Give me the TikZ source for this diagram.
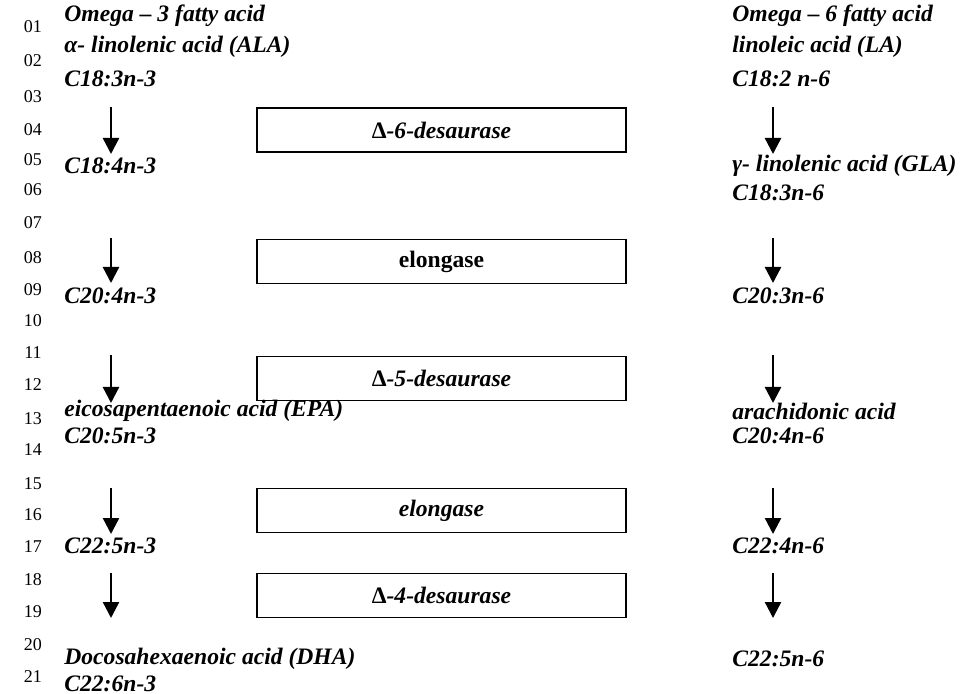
\documentclass[tikz,border=0pt]{standalone}
\usepackage{fontspec}
\setmainfont{Liberation Serif}
\usetikzlibrary{positioning, arrows.meta}

\tikzset{
    acid/.style={anchor=west, inner sep=0pt, font=\fontsize{11.8}{13}\selectfont\bfseries\itshape},
    enzyme/.style={draw, line width=0.7pt, minimum width=184.5pt, minimum height=22pt, inner sep=0pt,
        font=\fontsize{11.8}{13}\selectfont\bfseries\itshape},
    lineno/.style={inner sep=0pt, font=\fontsize{9}{10}\selectfont},
    flow/.style={-{Triangle[width=8pt,length=8pt]}, line width=1.2pt}
}
\newcommand{\dlt}{\textup{Δ}}

\begin{document}
\begin{tikzpicture}[x=0.5pt, y=-0.5pt]
        \useasboundingbox (0, 0) rectangle (962, 694);

        % 行号
        \foreach \n/\y in {01/27, 02/61, 03/97, 04/130, 05/160, 06/190, 07/223,
                08/258, 09/290, 10/321, 11/353, 12/385, 13/419, 14/450,
                15/484, 16/515, 17/547, 18/580, 19/612, 20/645, 21/677}
            \node[lineno] (L\n) at (33, \y) {\n};

        % 左列: omega-3
        \node[acid] (O3) at (64, 16) {Omega -- 3 fatty acid};
        \node[acid] (ALA) at (64, 47) {α- linolenic acid (ALA)};
        \node[acid] (C183n3) at (64, 79) {C18:3n-3};
        \node[acid] (C184n3) at (64, 166) {C18:4n-3};
        \node[acid] (C204n3) at (64, 296) {C20:4n-3};
        \node[acid] (EPA) at (64, 411) {eicosapentaenoic acid (EPA)};
        \node[acid] (C205n3) at (64, 436) {C20:5n-3};
        \node[acid] (C225n3) at (64, 546) {C22:5n-3};
        \node[acid] (DHA) at (64, 659) {Docosahexaenoic acid (DHA)};
        \node[acid] (C226n3) at (64, 684) {C22:6n-3};

        % 右列: omega-6
        \node[acid] (O6) at (732, 16) {Omega -- 6 fatty acid};
        \node[acid] (LA) at (732, 47) {linoleic acid (LA)};
        \node[acid] (C182n6) at (732, 79) {C18:2 n-6};
        \node[acid] (GLA) at (732, 166) {γ- linolenic acid (GLA)};
        \node[acid] (C183n6) at (732, 193) {C18:3n-6};
        \node[acid] (C203n6) at (732, 296) {C20:3n-6};
        \node[acid] (AA) at (732, 411) {arachidonic acid};
        \node[acid] (C204n6) at (732, 436) {C20:4n-6};
        \node[acid] (C224n6) at (732, 546) {C22:4n-6};
        \node[acid] (C225n6) at (732, 659) {C22:5n-6};

        % 酶
        \node[enzyme] (D6) at (441.5, 130) {\dlt-6-desaurase};
        \node[enzyme] (E1) at (441.5, 261.5) {\upshape elongase};
        \node[enzyme] (D5) at (441.5, 378.5) {\dlt-5-desaurase};
        \node[enzyme] (E2) at (441.5, 510.5) {elongase};
        \node[enzyme] (D4) at (441.5, 595.5) {\dlt-4-desaurase};

        % 箭头
        \foreach \k/\a/\b in {1/107/154, 2/238/283, 3/355/403, 4/488/534, 5/573/618} {
            \coordinate (LS\k) at (111, \a);
            \coordinate (LE\k) at (111, \b);
            \coordinate (RS\k) at (773, \a);
            \coordinate (RE\k) at (773, \b);
            \draw[flow] (LS\k) -- (LE\k);
            \draw[flow] (RS\k) -- (RE\k);
        }
\end{tikzpicture}
\end{document}
